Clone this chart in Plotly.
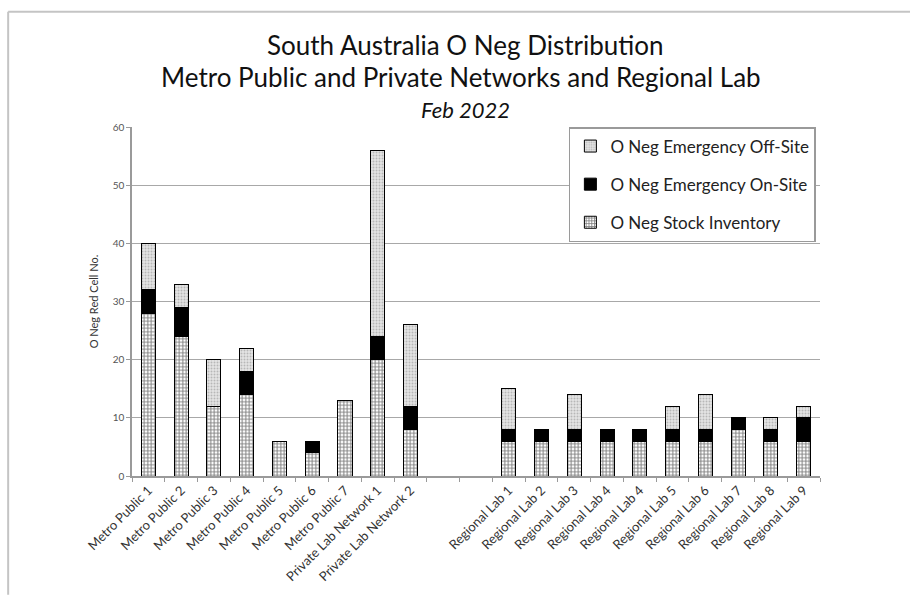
import plotly.graph_objects as go

categories = ["Metro Public 1", "Metro Public 2", "Metro Public 3", "Metro Public 4",
              "Metro Public 5", "Metro Public 6", "Metro Public 7",
              "Private Lab Network 1", "Private Lab Network 2", "", "",
              "Regional Lab 1", "Regional Lab 2", "Regional Lab 3", "Regional Lab 4",
              "Regional Lab 4", "Regional Lab 5", "Regional Lab 6", "Regional Lab 7",
              "Regional Lab 8", "Regional Lab 9"]
stock_inventory = [28, 24, 12, 14, 6, 4, 13, 20, 8, None, None,
                   6, 6, 6, 6, 6, 6, 6, 8, 6, 6]
emergency_onsite = [4, 5, 0, 4, 0, 2, 0, 4, 4, None, None,
                    2, 2, 2, 2, 2, 2, 2, 2, 2, 4]
emergency_offsite = [8, 4, 8, 4, 0, 0, 0, 32, 14, None, None,
                     7, 0, 6, 0, 0, 4, 6, 0, 2, 2]
y_ticks = [0, 10, 20, 30, 40, 50, 60]

x = list(range(len(categories)))
FONT = "Lato, 'Open Sans', sans-serif"

fig = go.Figure()
fig.add_trace(go.Bar(
    x=x, y=stock_inventory, name="O Neg Stock Inventory", legendgroup="a", legendrank=3,
    marker=dict(color="white", line=dict(color="black", width=1),
                pattern=dict(shape="+", fgcolor="black", bgcolor="white", size=3.5, solidity=0.5)),
))
fig.add_trace(go.Bar(
    x=x, y=emergency_onsite, name="O Neg Emergency On-Site", legendgroup="b", legendrank=2,
    marker=dict(color="black", line=dict(color="black", width=1)),
))
fig.add_trace(go.Bar(
    x=x, y=emergency_offsite, name="O Neg Emergency Off-Site", legendgroup="c", legendrank=1,
    marker=dict(color="#e0e0e0", line=dict(color="black", width=1),
                pattern=dict(shape=".", fgcolor="#8a8a8a", bgcolor="#e4e4e4", size=3, solidity=0.35)),
))

fig.update_layout(
    width=910, height=596,
    margin=dict(l=132, r=90, t=127, b=118),
    barmode="stack", bargap=0.57,
    plot_bgcolor="white", paper_bgcolor="white",
    font=dict(family=FONT, color="#333333"),
    showlegend=True,
    legend=dict(
        x=0.635, y=1.0, xanchor="left", yanchor="top",
        traceorder="grouped", tracegroupgap=13,
        bgcolor="white", bordercolor="#9a9a9a", borderwidth=1.5,
        font=dict(size=17, color="#222222", family=FONT),
        itemwidth=30,
    ),
    annotations=[
        dict(text="South Australia O Neg Distribution", xref="paper", yref="paper",
             x=0.485, y=1.235, xanchor="center", yanchor="middle", showarrow=False,
             font=dict(size=26, color="#111111", family=FONT)),
        dict(text="Metro Public and Private Networks and Regional Lab", xref="paper", yref="paper",
             x=0.478, y=1.143, xanchor="center", yanchor="middle", showarrow=False,
             font=dict(size=26, color="#111111", family=FONT)),
        dict(text="<i>Feb 2022</i>", xref="paper", yref="paper",
             x=0.485, y=1.050, xanchor="center", yanchor="middle", showarrow=False,
             font=dict(size=22, color="#111111", family=FONT)),
    ],
    shapes=[
        dict(type="line", xref="paper", yref="paper", x0=-0.180, x1=1.14, y0=1.3305, y1=1.3305,
             line=dict(color="#c4c4c4", width=2)),
        dict(type="line", xref="paper", yref="paper", x0=-0.180, x1=-0.180, y0=1.3305, y1=-0.34,
             line=dict(color="#c4c4c4", width=2)),
    ],
)

fig.update_xaxes(
    range=[-0.5, len(categories) - 0.5],
    tickmode="array", tickvals=x, ticktext=categories, tickangle=-45,
    ticks="", tickfont=dict(size=13, color="#333333", family=FONT),
    showline=True, linecolor="#9a9a9a", linewidth=1.5,
    showgrid=False, zeroline=False,
    minor=dict(tickmode="array", tickvals=[i - 0.5 for i in range(len(categories) + 1)],
               ticks="outside", ticklen=4, tickcolor="#9a9a9a", tickwidth=1, showgrid=False),
)
fig.update_yaxes(
    range=[0, 60], tickmode="array", tickvals=y_ticks,
    ticks="outside", ticklen=4, tickcolor="#9a9a9a",
    tickfont=dict(size=10, color="#555555", family=FONT),
    showline=True, linecolor="#9a9a9a", linewidth=1.5,
    showgrid=True, gridcolor="#a8a8a8", gridwidth=1.2, zeroline=False,
    title=dict(text="O Neg Red Cell No.", font=dict(size=11, color="#333333", family=FONT), standoff=12),
)

fig.write_html("out.html")
